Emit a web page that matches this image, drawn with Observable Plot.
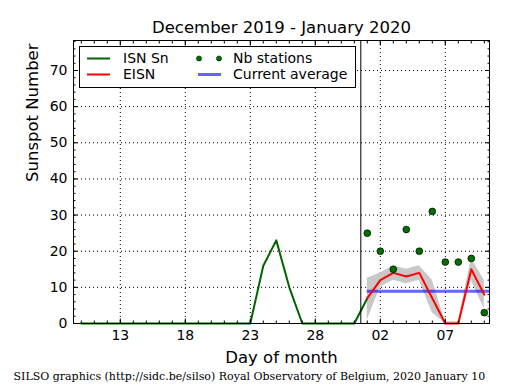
<!DOCTYPE html>
<html><head><meta charset="utf-8">
<script src="https://cdn.jsdelivr.net/npm/d3@7"></script>
<script src="https://cdn.jsdelivr.net/npm/@observablehq/plot@0.6"></script>
<style>body{margin:0;background:#fff}</style>
</head><body><div id="chart"></div>
<script>
// Day index: December days 1..31, January days continue as 32, 33, ...
const isnDays   = [10,11,12,13,14,15,16,17,18,19,20,21,22,23,24,25,26,27,28,29,30,31,32];
const isnValues = [ 0, 0, 0, 0, 0, 0, 0, 0, 0, 0, 0, 0, 0, 0,16,23,10, 0, 0, 0, 0, 0, 7];
const eisnDays   = [32,33,34,35,36,37,38,39,40,41];
const eisnValues = [ 7,12,14,13,14, 7, 0, 0,15, 8];
const bandLow    = [ 1,10,12,11,12, 3, 0, 0,12, 4];
const bandHigh   = [12.5,14,16,15,16,12,0.5,0.5,18,12];
const stationCounts = [25,20,15,26,20,31,17,17,18,3];
const currentAverage = 8.9;
const monthBoundary = 31.5;
const xDomain = [9.4, 41.4];
const yDomain = [0, 78.3];
const xMajorTicks = [13,18,23,28,33,38];
const xMinorTicks = d3.range(10, 42);
const yMajorTicks = [0,10,20,30,40,50,60,70];
const yMinorTicks = d3.range(0, 79, 2);
const titleText = "December 2019 - January 2020";
const xLabel = "Day of month";
const yLabel = "Sunspot Number";
const captionText = "SILSO graphics (http://sidc.be/silso) Royal Observatory of Belgium, 2020 January 10";
const legendLabels = ["ISN Sn", "EISN", "Nb stations", "Current average"];

const isn = isnDays.map((d, i) => ({day: d, value: isnValues[i]}));
const eisn = eisnDays.map((d, i) => ({day: d, value: eisnValues[i], lo: bandLow[i], hi: bandHigh[i], nb: stationCounts[i]}));
const fmtDay = d => String(d > 31 ? d - 31 : d).padStart(2, "0");
const blank = () => "";

const chart = Plot.plot({
  width: 515, height: 390,
  marginLeft: 73, marginRight: 26, marginTop: 40, marginBottom: 67,
  style: {fontFamily: "DejaVu Sans", fontSize: "14px", background: "white", color: "black"},
  x: {domain: xDomain},
  y: {domain: yDomain},
  marks: [
    Plot.ruleY(yMajorTicks.slice(1), {stroke: "black", strokeWidth: 1, strokeDasharray: "1,3"}),
    Plot.ruleX(xMajorTicks, {stroke: "black", strokeWidth: 1, strokeDasharray: "1,3"}),
    Plot.areaY(eisn, {x: "day", y1: "lo", y2: "hi", fill: "#c8c8c8"}),
    Plot.ruleY([currentAverage], {x1: eisnDays[0], x2: xDomain[1], stroke: "#0000ff", strokeOpacity: 0.6, strokeWidth: 3}),
    Plot.line(isn, {x: "day", y: "value", stroke: "#006400", strokeWidth: 2}),
    Plot.line(eisn, {x: "day", y: "value", stroke: "#ff0000", strokeWidth: 2}),
    Plot.dot(eisn, {x: "day", y: "nb", r: 3.4, fill: "#007000", stroke: "black", strokeWidth: 0.7}),
    Plot.ruleX([monthBoundary], {stroke: "black", strokeWidth: 1}),
    Plot.frame({stroke: "black", strokeWidth: 1}),
    Plot.axisX({ticks: xMajorTicks, tickSize: -4.5, tickPadding: 11, tickFormat: fmtDay, label: null, fontSize: 14}),
    Plot.axisX({ticks: xMinorTicks, tickSize: -2.5, tickFormat: blank, label: null}),
    Plot.axisX({anchor: "top", ticks: xMajorTicks, tickSize: -4.5, tickFormat: blank, label: null}),
    Plot.axisX({anchor: "top", ticks: xMinorTicks, tickSize: -2.5, tickFormat: blank, label: null}),
    Plot.axisY({ticks: yMajorTicks, tickSize: -4.5, tickPadding: 10.5, label: null, fontSize: 14}),
    Plot.axisY({ticks: yMinorTicks, tickSize: -2.5, tickFormat: blank, label: null}),
    Plot.axisY({anchor: "right", ticks: yMajorTicks, tickSize: -4.5, tickFormat: blank, label: null}),
    Plot.axisY({anchor: "right", ticks: yMinorTicks, tickSize: -2.5, tickFormat: blank, label: null}),
    Plot.text([titleText], {frameAnchor: "top", lineAnchor: "middle", dy: -13, fontSize: 16.5, fill: "black"}),
    Plot.text([xLabel], {frameAnchor: "bottom", lineAnchor: "middle", dy: 34, fontSize: 16.5, fill: "black"}),
    Plot.text([yLabel], {frameAnchor: "left", lineAnchor: "middle", dx: -41, rotate: -90, fontSize: 16.5, fill: "black"}),
    Plot.text([captionText], {frameAnchor: "bottom-left", lineAnchor: "middle", dx: -60, dy: 53, textAnchor: "start", fontSize: 11, fontFamily: "DejaVu Serif", fill: "black"})
  ]
});
document.getElementById("chart").appendChild(chart);

// Legend
const svg = d3.select(chart);
const lg = svg.append("g").attr("font-family", "DejaVu Sans").attr("font-size", 14).attr("text-anchor", "start").attr("fill", "black");
lg.append("rect").attr("x", 79.5).attr("y", 46.5).attr("width", 276).attr("height", 41)
  .attr("fill", "white").attr("stroke", "black").attr("stroke-width", 1);
const row1 = 58.5, row2 = 74.5;
lg.append("line").attr("x1", 87).attr("x2", 110).attr("y1", row1).attr("y2", row1).attr("stroke", "#006400").attr("stroke-width", 2);
lg.append("text").attr("x", 123).attr("y", row1).attr("dy", "0.35em").text(legendLabels[0]);
lg.append("line").attr("x1", 87).attr("x2", 110).attr("y1", row2).attr("y2", row2).attr("stroke", "#ff0000").attr("stroke-width", 2);
lg.append("text").attr("x", 123).attr("y", row2).attr("dy", "0.35em").text(legendLabels[1]);
[199, 219].forEach(cx => lg.append("circle").attr("cx", cx).attr("cy", row1).attr("r", 2.6).attr("fill", "#007000").attr("stroke", "black").attr("stroke-width", 0.5));
lg.append("text").attr("x", 233).attr("y", row1).attr("dy", "0.35em").text(legendLabels[2]);
lg.append("line").attr("x1", 198).attr("x2", 221).attr("y1", row2).attr("y2", row2).attr("stroke", "#0000ff").attr("stroke-opacity", 0.6).attr("stroke-width", 3);
lg.append("text").attr("x", 233).attr("y", row2).attr("dy", "0.35em").text(legendLabels[3]);
</script>
</body></html>
